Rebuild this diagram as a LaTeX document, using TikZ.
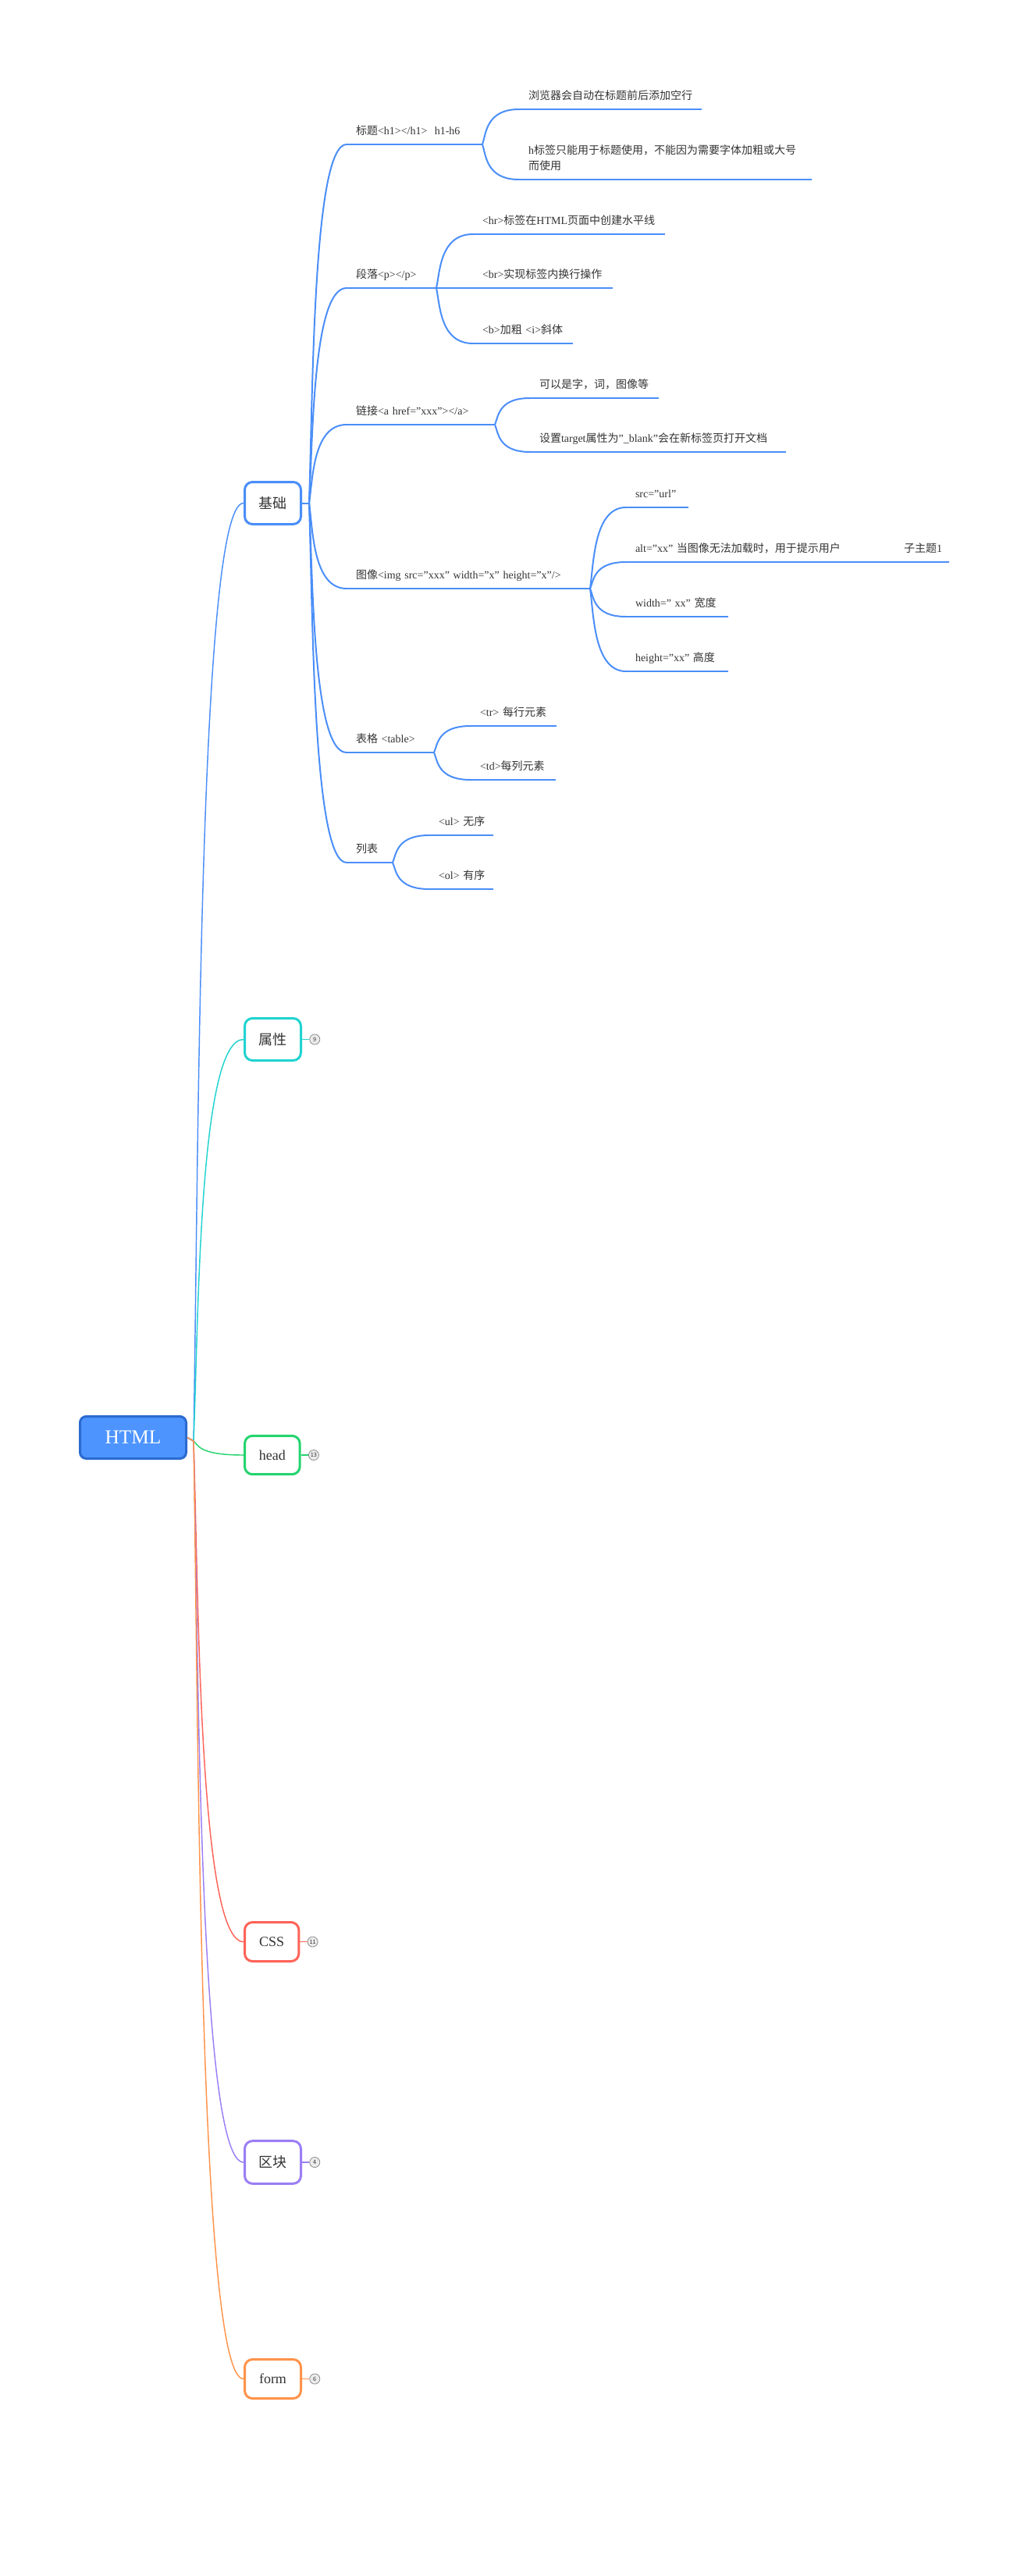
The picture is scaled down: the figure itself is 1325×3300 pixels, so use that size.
\documentclass[tikz,border=0pt]{standalone}
\usepackage{fontspec}
\setmainfont{Liberation Serif}
\newfontfamily\cjk{Noto Sans CJK SC}
\usetikzlibrary{calc}
\usetikzlibrary{positioning}

\definecolor{ink}{HTML}{333333}
\definecolor{bl}{HTML}{4A8EF8}
\definecolor{rootfill}{HTML}{4D94FF}
\definecolor{rootline}{HTML}{2B6BD0}
\definecolor{cy}{HTML}{21D3D0}
\definecolor{gr}{HTML}{24D46E}
\definecolor{rd}{HTML}{FF6358}
\definecolor{pu}{HTML}{9B7EF5}
\definecolor{og}{HTML}{FF934A}
\definecolor{badgeline}{HTML}{8C8C8C}
\definecolor{badgefill}{HTML}{EBEBEB}

\tikzset{
 curvy/.style={to path={let \p1=(\tikztostart), \p2=(\tikztotarget) in
   .. controls ({\x1+0.1*(\x2-\x1)},{\y1+0.3*(\y2-\y1)}) and ({\x1+0.1*(\x2-\x1)},\y2) .. (\tikztotarget)}},
 sub/.style={anchor=south west, outer sep=0pt, inner xsep=9pt, inner ysep=0pt, text depth=9.5pt,
   align=left, text=ink, font=\fontsize{10.5}{15}\selectfont,
   /utils/exec={\pgfmathsetlengthmacro\subw{#1*0.75pt-18pt}}, text width=\subw},
 l2/.style={draw=bl, line width=1.5pt},
 trunk/.style={draw=#1, line width=1.1pt},
 root/.style={fill=rootfill, draw=rootline, line width=2.25pt, rounded corners=6pt,
   minimum width=102pt, minimum height=40.5pt, text=white, font=\fontsize{19}{22}\selectfont},
 branch/.style={draw=#1, fill=white, line width=2.25pt, rounded corners=7.5pt,
   minimum width=54pt, minimum height=40.5pt, text=ink, font=\fontsize{13.5}{16}\selectfont},
 badge/.style={circle, draw=badgeline, fill=badgefill, line width=0.6pt, minimum size=9.8pt,
   inner sep=0pt, text=ink, font=\cjk\fontsize{5.5}{6}\selectfont}
}

\begin{document}
\begin{tikzpicture}[x=0.75pt, y=-0.75pt]
\useasboundingbox (0,0) rectangle (1325,3300);
\node[root] (html) at (170.5,1841.5) {HTML};
\coordinate (rj) at (248,1846);

\node[branch=bl, anchor=west] (jc) at (312,644.5) {{\cjk 基础}};
\draw[trunk=bl] (html.east) -- (rj) to[curvy] (jc.west);
\foreach \nm/\tx/\yy/\cl/\num/\bw/\bh in {sx/{\cjk 属性}/1331.5/cy/9/54/40.5, hd/head/1864/gr/13/53/37,
  cs/CSS/2487.5/rd/11/52/37.5, qk/{\cjk 区块}/2770/pu/4/54/41, fm/form/3047.5/og/6/54/37.5} {
  \node[branch=\cl, anchor=west, minimum width=\bw pt, minimum height=\bh pt] (\nm) at (312,\yy) {\tx};
  \node[badge, right=7pt of \nm] (\nm-n) {\num};
  \draw[trunk=\cl] (html.east) -- (rj) to[curvy] (\nm.west);
  \draw[trunk=\cl, line width=1.3pt] (\nm.east) -- (\nm-n.west);
}

% 基础
\coordinate (jcj) at (396,644.5);
\draw[l2] (jc.east) -- (jcj);
\node[sub=174] (bt) at (444,185) {{\cjk 标题}<h1></h1>~~h1-h6};
\node[sub=115] (dl) at (444,369) {{\cjk 段落}<p></p>};
\node[sub=190] (lj) at (444,544) {{\cjk 链接}<a~href="xxx"></a>};
\node[sub=312] (tx) at (444,754) {{\cjk 图像}<img~src="xxx"~width="x"~height="x"/>};
\node[sub=112] (bg) at (444,964) {{\cjk 表格}~<table>};
\node[sub=59] (lb) at (444,1105) {{\cjk 列表}};

\node[sub=234] (bt1) at (665,140) {{\cjk 浏览器会自动在标题前后添加空行}};
\node[sub=375, text depth=24.5pt] (bt2) at (665,230) {h{\cjk 标签只能用于标题使用，不能因为需要字体加粗或大号}\\{\cjk 而使用}};
\node[sub=246] (dl1) at (606,300) {<hr>{\cjk 标签在}HTML{\cjk 页面中创建水平线}};
\node[sub=179] (dl2) at (606,369) {<br>{\cjk 实现标签内换行操作}};
\node[sub=128] (dl3) at (606,440) {<b>{\cjk 加粗}~<i>{\cjk 斜体}};
\node[sub=165] (lj1) at (679,510) {{\cjk 可以是字，词，图像等}};
\node[sub=328] (lj2) at (679,579) {{\cjk 设置}target{\cjk 属性为}"\_blank"{\cjk 会在新标签页打开文档}};
\node[sub=80] (tx1) at (802,650) {src="url"};
\node[sub=344] (tx2) at (802,720) {alt="xx"~{\cjk 当图像无法加载时，用于提示用户}};
\node[sub=70] (tx21) at (1146,720) {{\cjk 子主题}1};
\node[sub=131] (tx3) at (802,790) {width="~xx"~{\cjk 宽度}};
\node[sub=131] (tx4) at (802,860) {height="xx"~{\cjk 高度}};
\node[sub=110] (bg1) at (603,930) {<tr>~{\cjk 每行元素}};
\node[sub=109] (bg2) at (603,999) {<td>{\cjk 每列元素}};
\node[sub=82] (lb1) at (550,1070) {<ul>~{\cjk 无序}};
\node[sub=82] (lb2) at (550,1139) {<ol>~{\cjk 有序}};

\foreach \c in {bt,dl,lj,tx,bg,lb}
  \draw[l2] (jcj) to[curvy] (\c.south west);
\foreach \n in {bt,dl,lj,tx,bg,lb,bt1,bt2,dl1,dl2,dl3,lj1,lj2,tx1,tx2,tx21,tx3,tx4,bg1,bg2,lb1,lb2}
  \draw[l2] (\n.south west) -- (\n.south east);
\foreach \p/\c in {bt/bt1,bt/bt2,dl/dl1,dl/dl2,dl/dl3,lj/lj1,lj/lj2,tx/tx1,tx/tx2,tx/tx3,tx/tx4,tx2/tx21,bg/bg1,bg/bg2,lb/lb1,lb/lb2}
  \draw[l2] (\p.south east) to[curvy] (\c.south west);
\end{tikzpicture}
\end{document}
